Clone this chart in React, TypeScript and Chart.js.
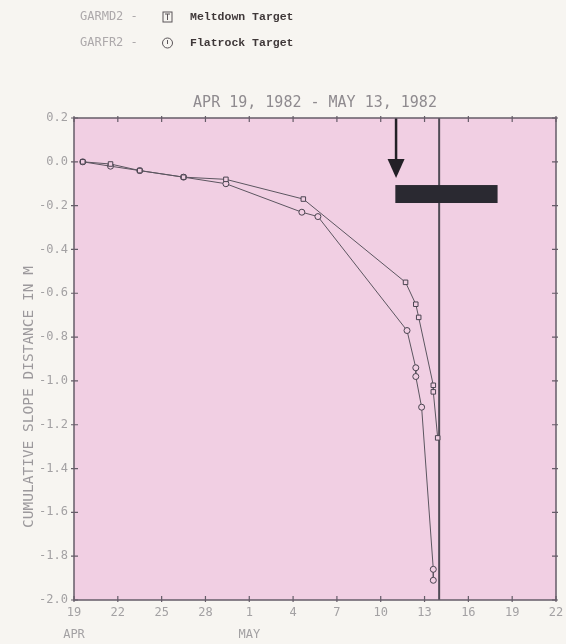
import React, { useEffect, useRef } from "react";
import { Chart, registerables } from "chart.js";

Chart.register(...registerables);

// ---- data (x = days after Apr 19, 1982; y = cumulative slope distance in m)
const meltdownDays = [0.6, 2.5, 4.5, 7.5, 10.4, 15.7, 22.7, 23.4, 23.6, 24.6, 24.6, 24.9];
const meltdownValues = [0.0, -0.01, -0.04, -0.07, -0.08, -0.17, -0.55, -0.65, -0.71, -1.02, -1.05, -1.26];
const flatrockDays = [0.6, 2.5, 4.5, 7.5, 10.4, 15.6, 16.7, 22.8, 23.4, 23.4, 23.8, 24.6, 24.6];
const flatrockValues = [0.0, -0.02, -0.04, -0.07, -0.1, -0.23, -0.25, -0.77, -0.94, -0.98, -1.12, -1.86, -1.91];

const xMonthLabels: Record<number, string> = { 0: "APR", 12: "MAY" };
const legendCodes = ["GARMD2 -", "GARFR2 -"];
const legendNames = ["Meltdown Target", "Flatrock Target"];
const titleText = "APR 19, 1982 - MAY 13, 1982";
const yTitleText = "CUMULATIVE SLOPE DISTANCE IN M";

// annotations in data units
const failureDay = 25;
const arrowDay = 22.05;
const arrowTip = -0.074;
const barDays = [22.0, 29.0];
const barValues = [-0.106, -0.188];

const PAGE_BG = "#f7f5f1";
const PLOT_BG = "#f1cfe3";
const AXIS_TEXT = "#a3a1a3";
const LINE = "#5c5660";
const MONO = "'DejaVu Sans Mono', 'Liberation Mono', monospace";

function dayLabel(v: number): string {
  const d = 19 + v;
  return String(d > 30 ? d - 30 : d);
}

const decor = {
  id: "decor",
  beforeDraw(chart: any) {
    const { ctx, chartArea: a } = chart;
    ctx.save();
    ctx.fillStyle = PAGE_BG;
    ctx.fillRect(0, 0, chart.width, chart.height);
    ctx.fillStyle = PLOT_BG;
    ctx.fillRect(a.left, a.top, a.right - a.left, a.bottom - a.top);
    ctx.restore();
  },
  beforeDatasetsDraw(chart: any) {
    const { ctx, chartArea: a, scales } = chart;
    const xs = scales.x;
    const ys = scales.y;
    ctx.save();
    // vertical failure line
    const fx = xs.getPixelForValue(failureDay);
    ctx.strokeStyle = "#4f4b55";
    ctx.lineWidth = 2;
    ctx.beginPath();
    ctx.moveTo(fx, a.top);
    ctx.lineTo(fx, a.bottom);
    ctx.stroke();
    // black bar
    const bx0 = xs.getPixelForValue(barDays[0]);
    const bx1 = xs.getPixelForValue(barDays[1]);
    const by0 = ys.getPixelForValue(barValues[0]);
    const by1 = ys.getPixelForValue(barValues[1]);
    ctx.fillStyle = "#2a2931";
    ctx.fillRect(bx0, by0, bx1 - bx0, by1 - by0);
    // arrow
    const ax = xs.getPixelForValue(arrowDay);
    const tipY = ys.getPixelForValue(arrowTip);
    ctx.strokeStyle = "#222026";
    ctx.lineWidth = 2.5;
    ctx.beginPath();
    ctx.moveTo(ax, a.top);
    ctx.lineTo(ax, tipY - 12);
    ctx.stroke();
    ctx.fillStyle = "#222026";
    ctx.beginPath();
    ctx.moveTo(ax - 8.5, tipY - 19);
    ctx.lineTo(ax + 8.5, tipY - 19);
    ctx.lineTo(ax, tipY);
    ctx.closePath();
    ctx.fill();
    ctx.restore();
  },
  afterDraw(chart: any) {
    const { ctx, chartArea: a, scales } = chart;
    ctx.save();
    // border
    ctx.strokeStyle = "#655c68";
    ctx.lineWidth = 1.5;
    ctx.strokeRect(a.left, a.top, a.right - a.left, a.bottom - a.top);
    // tick marks crossing the border
    ctx.lineWidth = 1.2;
    ctx.beginPath();
    for (const t of scales.x.ticks) {
      const px = scales.x.getPixelForValue(t.value);
      ctx.moveTo(px, a.bottom - 4);
      ctx.lineTo(px, a.bottom + 2);
      ctx.moveTo(px, a.top - 2);
      ctx.lineTo(px, a.top + 4);
    }
    for (const t of scales.y.ticks) {
      const py = scales.y.getPixelForValue(t.value);
      ctx.moveTo(a.left - 3, py);
      ctx.lineTo(a.left + 4, py);
      ctx.moveTo(a.right - 4, py);
      ctx.lineTo(a.right + 2, py);
    }
    ctx.stroke();

    // title
    ctx.fillStyle = "#8f8b8f";
    ctx.font = `15px ${MONO}`;
    ctx.textAlign = "center";
    ctx.textBaseline = "middle";
    ctx.fillText(titleText, (a.left + a.right) / 2, a.top - 15);

    // y axis title
    ctx.save();
    ctx.translate(29, 397);
    ctx.rotate(-Math.PI / 2);
    ctx.fillStyle = "#9c999c";
    ctx.font = `14.5px ${MONO}`;
    ctx.fillText(yTitleText, 0, 0);
    ctx.restore();

    // legend
    const rows = [17, 43];
    for (let i = 0; i < 2; i++) {
      const y = rows[i];
      ctx.textAlign = "left";
      ctx.textBaseline = "middle";
      ctx.fillStyle = "#ada9ab";
      ctx.font = `12px ${MONO}`;
      ctx.fillText(legendCodes[i], 80, y);
      ctx.strokeStyle = "#5a5458";
      ctx.lineWidth = 1;
      if (i === 0) {
        ctx.strokeRect(163, y - 5, 9, 10);
        ctx.beginPath();
        ctx.moveTo(165, y - 3);
        ctx.lineTo(170, y - 3);
        ctx.moveTo(167.5, y - 3);
        ctx.lineTo(167.5, y + 3);
        ctx.stroke();
      } else {
        ctx.beginPath();
        ctx.arc(167.5, y, 5, 0, Math.PI * 2);
        ctx.moveTo(167.5, y - 3);
        ctx.lineTo(167.5, y + 1);
        ctx.stroke();
      }
      ctx.fillStyle = "#3f3839";
      ctx.font = `bold 11.5px 'Liberation Mono', monospace`;
      ctx.fillText(legendNames[i], 190, y);
    }
    ctx.restore();
  },
};

export default function App() {
  const ref = useRef<HTMLCanvasElement | null>(null);
  useEffect(() => {
    if (!ref.current) return;
    const chart = new Chart(ref.current, {
      type: "line",
      data: {
        datasets: [
          {
            label: "Meltdown Target",
            data: meltdownDays.map((d, i) => ({ x: d, y: meltdownValues[i] })),
            borderColor: LINE,
            borderWidth: 1,
            pointStyle: "rect",
            pointRadius: 3.2,
            pointBorderColor: "#4a4450",
            pointBackgroundColor: PLOT_BG,
            pointBorderWidth: 1,
            tension: 0,
          },
          {
            label: "Flatrock Target",
            data: flatrockDays.map((d, i) => ({ x: d, y: flatrockValues[i] })),
            borderColor: LINE,
            borderWidth: 1,
            pointStyle: "circle",
            pointRadius: 3,
            pointBorderColor: "#4a4450",
            pointBackgroundColor: PLOT_BG,
            pointBorderWidth: 1,
            tension: 0,
          },
        ],
      },
      options: {
        animation: false,
        responsive: false,
        maintainAspectRatio: false,
        layout: { padding: { top: 118, right: 10, left: 0, bottom: 0 } },
        plugins: { legend: { display: false }, tooltip: { enabled: false }, title: { display: false } },
        scales: {
          x: {
            type: "linear",
            min: 0,
            max: 33,
            border: { display: false },
            grid: { display: false, drawTicks: false },
            afterFit: (s: any) => {
              s.height = 44;
            },
            ticks: {
              stepSize: 3,
              padding: 2,
              color: AXIS_TEXT,
              font: { family: MONO, size: 12, lineHeight: 1.8 },
              maxRotation: 0,
              autoSkip: false,
              callback: (v: any) => {
                const n = Number(v);
                const m = xMonthLabels[n];
                return m ? [dayLabel(n), m] : dayLabel(n);
              },
            },
          },
          y: {
            type: "linear",
            min: -2.0,
            max: 0.2,
            border: { display: false },
            grid: { display: false, drawTicks: false },
            afterFit: (s: any) => {
              s.width = 74;
            },
            ticks: {
              stepSize: 0.2,
              padding: 6,
              color: AXIS_TEXT,
              font: { family: MONO, size: 12 },
              callback: (v: any) => {
                const n = Number(v);
                return Math.abs(n) < 1e-9 ? "0.0" : n.toFixed(1);
              },
            },
          },
        },
      },
      plugins: [decor],
    } as any);
    return () => chart.destroy();
  }, []);
  return (
    <div style={{ position: "absolute", left: 0, top: 0, width: 566, height: 644, background: PAGE_BG }}>
      <canvas ref={ref} width={566} height={644} style={{ display: "block" }} />
    </div>
  );
}
